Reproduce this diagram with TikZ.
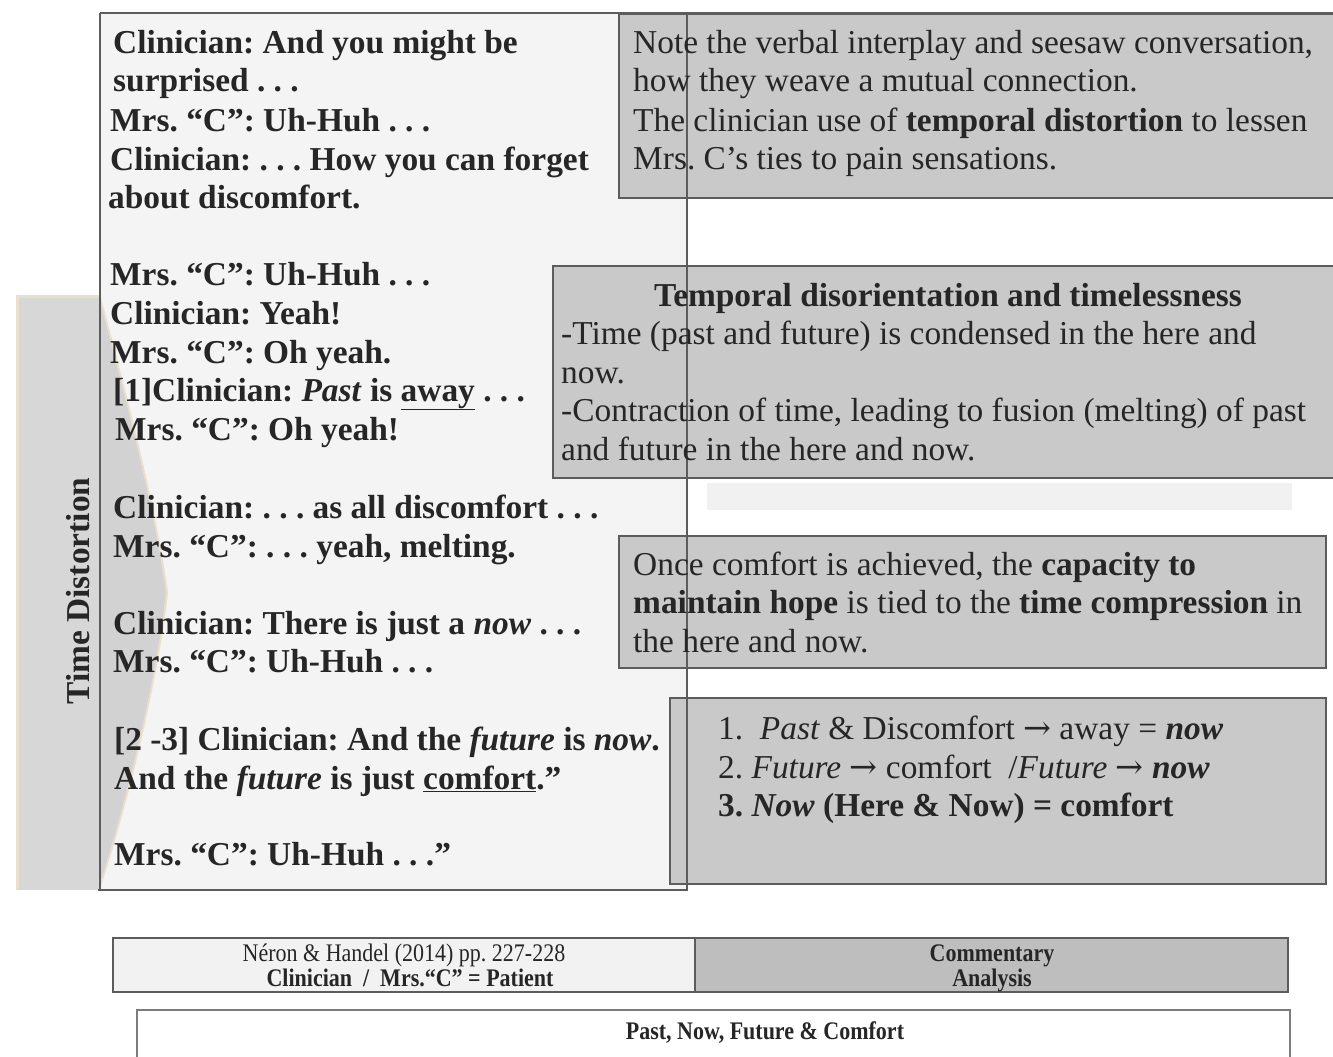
\documentclass[tikz,border=0pt]{standalone}
\usepackage{fontspec}
\setmainfont{Liberation Serif}
\newfontfamily\arrfont{DejaVu Serif}
\usepackage{graphicx}
\frenchspacing
\definecolor{paper}{HTML}{F4F4F4}
\definecolor{boxgray}{HTML}{C9C9C9}
\definecolor{tdgray}{HTML}{D7D7D7}
\definecolor{chevgray}{HTML}{D2D2D2}
\definecolor{edge}{HTML}{5C5C5C}
\definecolor{beige}{HTML}{E9DFCC}
\definecolor{legdark}{HTML}{BEBEBE}
\definecolor{leglight}{HTML}{F2F2F2}
\definecolor{band}{HTML}{F1F1F1}
\newcommand{\arr}{{\arrfont\mdseries\upshape →}}
\tikzset{
  txt/.style={anchor=base west, inner sep=0pt, text=black!85, font=\fontsize{33.4}{38.6}\selectfont},
  btxt/.style={txt, font=\fontsize{33.4}{38.6}\selectfont\bfseries},
  ctxt/.style={txt, anchor=base},
  comment/.style={fill=boxgray, draw=edge, line width=1.8pt},
  legtxt/.style={anchor=base, inner sep=0pt, text=black!85, font=\fontsize{22}{25}\selectfont},
}
\begin{document}
\begin{tikzpicture}[x=1pt,y=-1pt]
\useasboundingbox (0,0) rectangle (1333,1057);
\fill[white] (0,0) rectangle (1333,1057);

% left transcript panel fill
\fill[paper] (100,13) rectangle (687,890);

% Time Distortion arrow
\fill[tdgray] (17,296) rectangle (100,890);
\draw[beige, line width=3pt] (17,890) -- (17,296) -- (100,296);
\fill[chevgray] (100,298) .. controls (133,420) and (157,520) .. (167,593)
   .. controls (157,680) and (128,800) .. (100,886) -- cycle;
\draw[beige, line width=2pt] (100,298) .. controls (133,420) and (157,520) .. (167,593)
   .. controls (157,680) and (128,800) .. (100,886);
\node[btxt, anchor=center, rotate=90] (td) at (78,591) {Time Distortion};

% commentary boxes
\draw[comment] (619,14) rectangle (1345,198);
\draw[comment] (553,266) rectangle (1345,478);
\fill[band] (707,483) rectangle (1292,510);
\draw[comment] (619,536) rectangle (1326,668);
\draw[comment] (670,698) rectangle (1326,884);

% left panel outline (drawn over the boxes)
\draw[edge, line width=2.5pt] (100,13) -- (1333,13);
\draw[edge, line width=2pt] (100,13) -- (100,890);
\draw[edge, line width=2.8pt] (98,890) -- (688,890);
\draw[edge, line width=1.4pt] (687,13) -- (687,890);

% transcript
\node[btxt] (l1) at (113,54) {Clinician: And you might be};
\node[btxt] (l2) at (113,92) {surprised . . .};
\node[btxt] (l3) at (110,131) {Mrs. “C”: Uh-Huh . . .};
\node[btxt] (l4) at (110,170) {Clinician: . . . How you can forget};
\node[btxt] (l5) at (108,208) {about discomfort.};
\node[btxt] (l6) at (110,285) {Mrs. “C”: Uh-Huh . . .};
\node[btxt] (l7) at (110,324) {Clinician: Yeah!};
\node[btxt] (l8) at (110,363) {Mrs. “C”: Oh yeah.};
\node[btxt] (l9) at (113,401) {[1]Clinician: \textit{Past} is \underline{away} . . .};
\node[btxt] (l10) at (115,440) {Mrs. “C”: Oh yeah!};
\node[btxt] (l11) at (113,518) {Clinician: . . . as all discomfort . . .};
\node[btxt] (l12) at (113,557) {Mrs. “C”: . . . yeah, melting.};
\node[btxt] (l13) at (113,634) {Clinician: There is just a \textit{now} . . .};
\node[btxt] (l14) at (113,672) {Mrs. “C”: Uh-Huh . . .};
\node[btxt] (l15) at (114,750) {[2 -3] Clinician: And the \textit{future} is \textit{now}.};
\node[btxt] (l16) at (114,789) {And the \textit{future} is just \underline{comfort}.”};
\node[btxt] (l17) at (114,865) {Mrs. “C”: Uh-Huh . . .”};

% box 1
\node[txt] (a1) at (633,54) {Note the verbal interplay and seesaw conversation,};
\node[txt] (a2) at (633,92) {how they weave a mutual connection.};
\node[txt] (a3) at (633,131) {The clinician use of \textbf{temporal distortion} to lessen};
\node[txt] (a4) at (633,169) {Mrs. C’s ties to pain sensations.};

% box 2
\node[ctxt, font=\fontsize{33.4}{38.6}\selectfont\bfseries] (b0) at (948,306) {Temporal disorientation and timelessness};
\node[txt] (b1) at (561,344) {-Time (past and future) is condensed in the here and};
\node[txt] (b2) at (561,383) {now.};
\node[txt] (b3) at (561,421) {-Contraction of time, leading to fusion (melting) of past};
\node[txt] (b4) at (561,460) {and future in the here and now.};

% box 3
\node[txt] (c1) at (633,575) {Once comfort is achieved, the \textbf{capacity to}};
\node[txt] (c2) at (633,613) {\textbf{maintain hope} is tied to the \textbf{time compression} in};
\node[txt] (c3) at (633,652) {the here and now.};

% box 4
\node[txt] (d1) at (718,739) {1.\ \ \textit{Past} \& Discomfort \arr{} away = \textbf{\textit{now}}};
\node[txt] (d2) at (718,778) {2. \textit{Future} \arr{} comfort \ /\textit{Future} \arr{} \textbf{\textit{now}}};
\node[btxt] (d3) at (718,816) {3. \textit{Now} (Here \& Now) = comfort};

% legend
\draw[edge, line width=1.6pt, fill=leglight] (113,938) rectangle (695,992);
\draw[edge, line width=1.6pt, fill=legdark] (695,938) rectangle (1288,992);
\node[legtxt] (g1) at (404,961) {\scalebox{1}[1.15]{Néron \& Handel (2014) pp. 227-228}};
\node[legtxt] (g2) at (410,986) {\scalebox{1}[1.15]{\textbf{Clinician \ / \ Mrs.“C” = Patient}}};
\node[legtxt] (g3) at (992,961) {\scalebox{1}[1.15]{\textbf{Commentary}}};
\node[legtxt] (g4) at (992,986) {\scalebox{1}[1.15]{\textbf{Analysis}}};

% bottom title box
\draw[edge!80, line width=1.4pt, fill=white] (137,1010) rectangle (1290,1075);
\node[legtxt] (p1) at (765,1039) {\scalebox{1}[1.15]{\textbf{Past, Now, Future \& Comfort}}};
\end{tikzpicture}
\end{document}
